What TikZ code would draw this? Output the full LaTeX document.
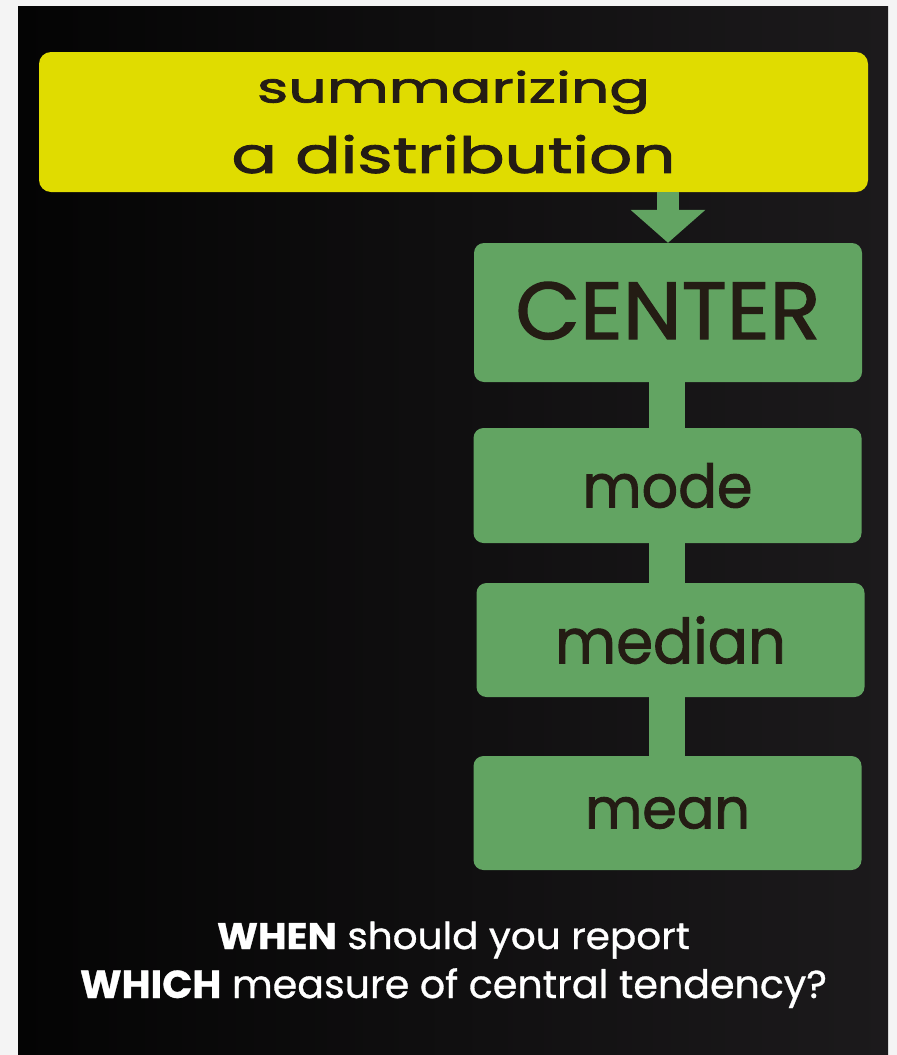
\documentclass[tikz,border=0pt]{standalone}
\usepackage{fontspec}
\usepackage{graphicx}
\setmainfont{Poppins}
\newfontfamily\inkfont[FakeBold=1.6]{Poppins}
\newfontfamily\chalkfont[FakeBold=0.8]{Poppins}
\usetikzlibrary{arrows.meta}
\definecolor{outerbg}{RGB}{244,244,244}
\definecolor{paneldark}{RGB}{4,4,4}
\definecolor{panellight}{RGB}{28,26,28}
\definecolor{hlyellow}{RGB}{224,220,0}
\definecolor{boxgreen}{RGB}{98,164,98}
\definecolor{inkdark}{RGB}{36,28,20}
\newcommand{\fitw}[3]{\resizebox{#1}{\height}{\fontsize{#2}{#2}\selectfont #3}}
\tikzset{
  topbox/.style={fill=hlyellow, rounded corners=12pt, draw=none, inner sep=0pt,
    minimum width=829pt, minimum height=140pt, text=inkdark, align=center, font=\inkfont},
  greenbox/.style={fill=boxgreen, rounded corners=10pt, draw=none, inner sep=0pt,
    minimum width=388pt, text=inkdark, font=\inkfont},
  link/.style={draw=boxgreen, line width=36pt},
  feedarrow/.style={draw=boxgreen, line width=22pt, -{Triangle[width=73pt,length=33pt]}},
  whitetext/.style={text=white, inner sep=0pt, font=\chalkfont}
}
\begin{document}
\begin{tikzpicture}[x=1pt,y=-1pt]
\fill[outerbg] (0,0) rectangle (897,1055);
\shade[left color=paneldark, right color=panellight] (18,6) rectangle (888,1055);
\useasboundingbox (0,0) rectangle (897,1055);

\node[topbox] (sum) at (453.5,122) {\raisebox{2pt}{\fitw{393pt}{42}{summarizing}}\\[20pt]\fitw{444pt}{50}{a distribution}};

\node[greenbox, minimum height=139pt] (center) at (668,312.5) {\raisebox{4pt}{\fitw{305pt}{81}{CENTER}}};
\node[greenbox, minimum height=115pt] (mode) at (667.5,485.5) {\fitw{170pt}{60}{mode}};
\node[greenbox, minimum height=114pt] (median) at (670.5,640) {\fitw{231pt}{62}{median}};
\node[greenbox, minimum height=114pt] (mean) at (667.5,813) {\fitw{165pt}{56}{mean}};

\draw[feedarrow] (sum.south -| center.north) -- (center.north);

\node[whitetext, anchor=base] (q1) at (453.5,949) {\fitw{473pt}{37}{\textbf{WHEN} should you report}};
\node[whitetext, anchor=base] (q2) at (453.5,998) {\fitw{747pt}{39}{\textbf{WHICH} measure of central tendency?}};

\draw[link] (center.south -| 667,0) -- (mode.north -| 667,0);
\draw[link] (mode.south -| 667,0) -- (median.north -| 667,0);
\draw[link] (median.south -| 667,0) -- (mean.north -| 667,0);
\end{tikzpicture}
\end{document}
